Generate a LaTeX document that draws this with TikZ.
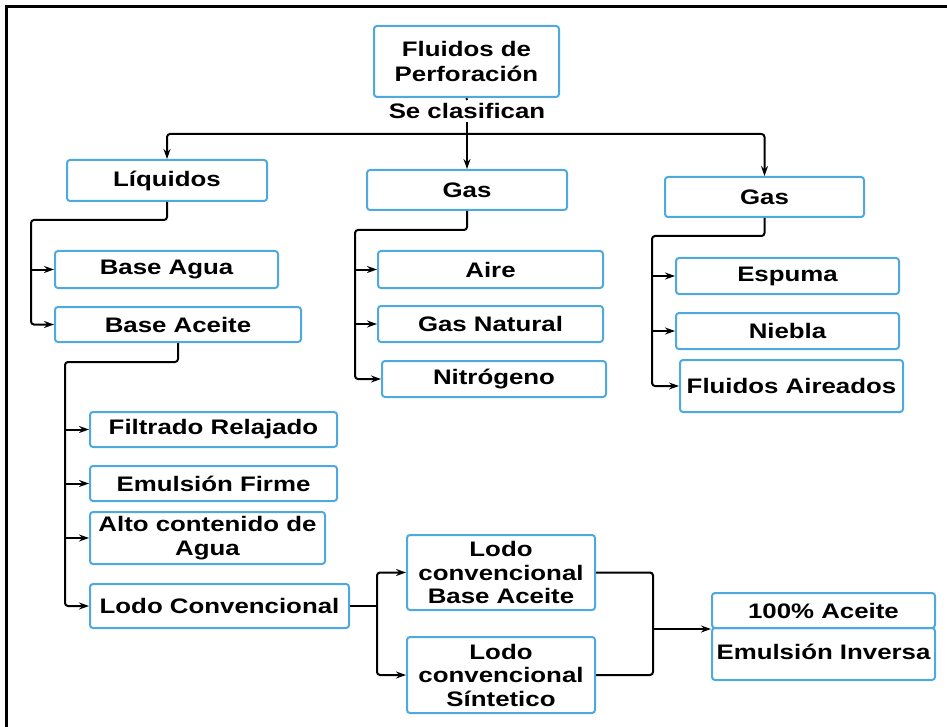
\documentclass[tikz,border=0pt]{standalone}
\usepackage{fontspec}
\setmainfont{Liberation Sans}[FakeStretch=1.23]
\usetikzlibrary{arrows.meta}
\definecolor{boxblue}{HTML}{4DA9E0}
\begin{document}
\begin{tikzpicture}[x=1pt,y=-1pt,
  box/.style={draw=boxblue,line width=2pt,rounded corners=3pt,inner sep=0pt,
    align=center,font=\fontsize{21}{23.5}\selectfont\bfseries},
  link/.style={draw=black,line width=2pt,rounded corners=3pt},
  arr/.style={link,-{Stealth[length=10pt,width=7pt]}}]
\useasboundingbox (0,0) rectangle (947,727);
% outer frame
\draw[line width=3pt] (6,727) -- (6,7) -- (947,7);

% root and first level
\node[box,minimum width=185,minimum height=71] (root) at (466.5,61.5) {Fluidos de\\[1pt]Perforación};
\node[inner sep=3pt,font=\fontsize{21}{24}\selectfont\bfseries] (clas) at (467,111) {Se clasifican};
\node[box,minimum width=200,minimum height=41] (liq) at (167,180.5) {Líquidos};
\node[box,minimum width=200,minimum height=40] (gasm) at (467,190) {Gas};
\node[box,minimum width=199,minimum height=40] (gasr) at (764.5,197) {Gas};

% liquid branch
\node[box,minimum width=223,minimum height=37] (bagua) at (166.5,269.5) {Base Agua};
\node[box,minimum width=246,minimum height=35] (baceite) at (178,324.5) {Base Aceite};
\node[box,minimum width=247,minimum height=35] (filt) at (213.5,429.5) {Filtrado Relajado};
\node[box,minimum width=247,minimum height=35] (emul) at (213.5,483.5) {Emulsión Firme};
\node[box,minimum width=235,minimum height=52] (alto) at (207.5,538) {Alto contenido de\\Agua};
\node[box,minimum width=259,minimum height=44] (lodo) at (219.5,606) {Lodo Convencional};

% gas branches
\node[box,minimum width=225,minimum height=37] (aire) at (490.5,269.5) {Aire};
\node[box,minimum width=225,minimum height=36] (gnat) at (490.5,324) {Gas Natural};
\node[box,minimum width=224,minimum height=36] (nitro) at (494,379) {Nitrógeno};
\node[box,minimum width=223,minimum height=36] (espuma) at (787.5,276) {Espuma};
\node[box,minimum width=223,minimum height=36] (niebla) at (787.5,331) {Niebla};
\node[box,minimum width=223,minimum height=52] (faire) at (791.5,386) {Fluidos Aireados};

% conventional mud
\node[box,minimum width=188,minimum height=75] (lcba) at (501,572.5) {Lodo\\convencional\\Base Aceite};
\node[box,minimum width=188,minimum height=76] (lcs) at (501,675) {Lodo\\convencional\\Síntetico};
\node[box,minimum width=223,minimum height=35] (ace) at (823.5,610.5) {100\% Aceite};
\node[box,minimum width=223,minimum height=52,text depth=4pt] (inv) at (823.5,654) {Emulsión Inversa};

% root connectors
\coordinate (rj) at (467,134);
\draw[link] (root.south) -- (clas.north);
\draw[arr] (clas.south) -- (gasm.north);
\draw[arr] (rj) -| (liq.north);
\draw[arr] (rj) -| (gasr.north);

% liquid connectors
\coordinate (lq) at (31,220);
\draw[arr] (liq.south) |- (lq) |- (baceite.west);
\draw[arr] (lq |- bagua.west) -- (bagua.west);
\coordinate (ba) at (65,362);
\draw[arr] (baceite.south) |- (ba) |- (lodo.west);
\draw[arr] (ba |- filt.west) -- (filt.west);
\draw[arr] (ba |- emul.west) -- (emul.west);
\draw[arr] (ba |- alto.west) -- (alto.west);

% gas connectors
\coordinate (gm) at (355,230);
\draw[arr] (gasm.south) |- (gm) |- (nitro.west);
\draw[arr] (gm |- aire.west) -- (aire.west);
\draw[arr] (gm |- gnat.west) -- (gnat.west);
\coordinate (gr) at (652,236);
\draw[arr] (gasr.south) |- (gr) |- (faire.west);
\draw[arr] (gr |- espuma.west) -- (espuma.west);
\draw[arr] (gr |- niebla.west) -- (niebla.west);

% conventional mud connectors
\coordinate (lj) at (377,606);
\draw[link] (lodo.east) -- (lj);
\draw[arr] (lj) |- (lcba.west);
\draw[arr] (lj) |- (lcs.west);
\path (ace.south west) ++(-58,0) coordinate (mj);
\draw[link] (lcba.east) -| (mj);
\draw[link] (lcs.east) -| (mj);
\draw[arr] (mj) -- (ace.south west);
\end{tikzpicture}
\end{document}
